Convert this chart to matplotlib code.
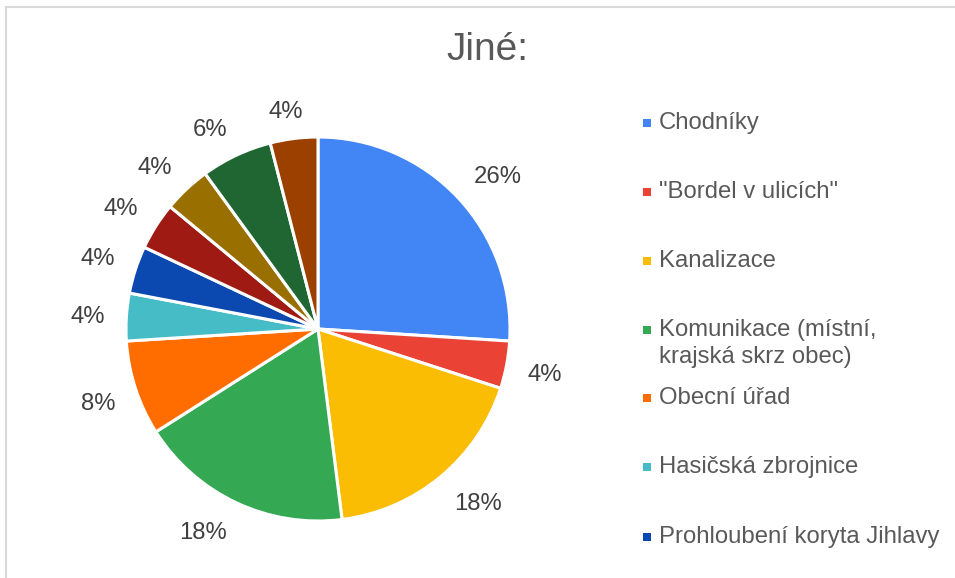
import numpy as np
import matplotlib.pyplot as plt
from matplotlib.patches import Rectangle

plt.rcParams["font.family"] = ["Liberation Sans", "DejaVu Sans"]

# Data (counts out of 50 answers)
categories = ["Chodníky", '"Bordel v ulicích"', "Kanalizace",
              "Komunikace (místní,\nkrajská skrz obec)", "Obecní úřad",
              "Hasičská zbrojnice", "Prohloubení koryta Jihlavy",
              "Jiné 8", "Jiné 9", "Jiné 10", "Jiné 11"]
counts = [13, 2, 9, 9, 4, 2, 2, 2, 2, 3, 2]
colors = ["#4285F4", "#EA4335", "#FBBC04", "#34A853", "#FF6D01", "#46BDC6",
          "#0B49B0", "#9E1A12", "#997000", "#1F6633", "#9C4000"]
legend_shown = 7  # legend in the original is cut after 7 items

W, H = 955, 578
fig = plt.figure(figsize=(W / 100, H / 100), dpi=100)

# light frame of the chart area (right/bottom edges are cut off)
fig.patches.append(Rectangle((6 / W, -0.05), 1.1, 1 - 7 / H + 0.05,
                             transform=fig.transFigure, fill=False,
                             edgecolor="#d9d9d9", linewidth=1.5))

# pie axes: center (318, 329) px, radius 192 px
cx, cy, r = 318, 329, 192
ax = fig.add_axes([(cx - 1.25 * r) / W, (H - cy - 1.25 * r) / H,
                   2.5 * r / W, 2.5 * r / H])
wedges, texts, autotexts = ax.pie(
    counts, colors=colors, startangle=90, counterclock=False,
    autopct=lambda p: f"{p:.0f}%", pctdistance=1.2,
    wedgeprops=dict(edgecolor="white", linewidth=2.2),
    textprops=dict(color="#404040", fontsize=17.2))
ax.set_xlim(-1.25, 1.25)
ax.set_ylim(-1.25, 1.25)

# excel-like outside labels: anchor point just off the edge,
# text box hangs off that point away from the pie
renderer = fig.canvas.get_renderer()
gap, cap_h, k = 21, 17, 2.5
for w, t in zip(wedges, autotexts):
    ang = np.deg2rad((w.theta1 + w.theta2) / 2)
    bb = t.get_window_extent(renderer)
    ax_px = (r + gap) * np.cos(ang) + bb.width / 2 * np.clip(k * np.cos(ang), -1, 1)
    ay_px = (r + gap) * np.sin(ang) + cap_h / 2 * np.clip(k * np.sin(ang), -1, 1)
    t.set_position((ax_px / r, (ay_px - 2.5) / r))

fig.text(487 / W, 1 - 50 / H, "Jiné:", ha="center", va="center",
         fontsize=28, color="#595959")

# legend
ys = [123, 192, 261, 330, 398, 467, 537]
for i in range(legend_shown):
    y = ys[i]
    fig.patches.append(Rectangle((643 / W, 1 - (y + 4) / H), 8 / W, 8 / H,
                                 transform=fig.transFigure,
                                 facecolor=colors[i], edgecolor="none"))
    fig.text(659 / W, 1 - y / H, categories[i].split("\n")[0], ha="left",
             va="center", fontsize=17.2, color="#595959")
    if "\n" in categories[i]:
        fig.text(659 / W, 1 - (y + 27) / H, categories[i].split("\n")[1],
                 ha="left", va="center", fontsize=17.2, color="#595959")

fig.savefig("out.png", dpi=100)
